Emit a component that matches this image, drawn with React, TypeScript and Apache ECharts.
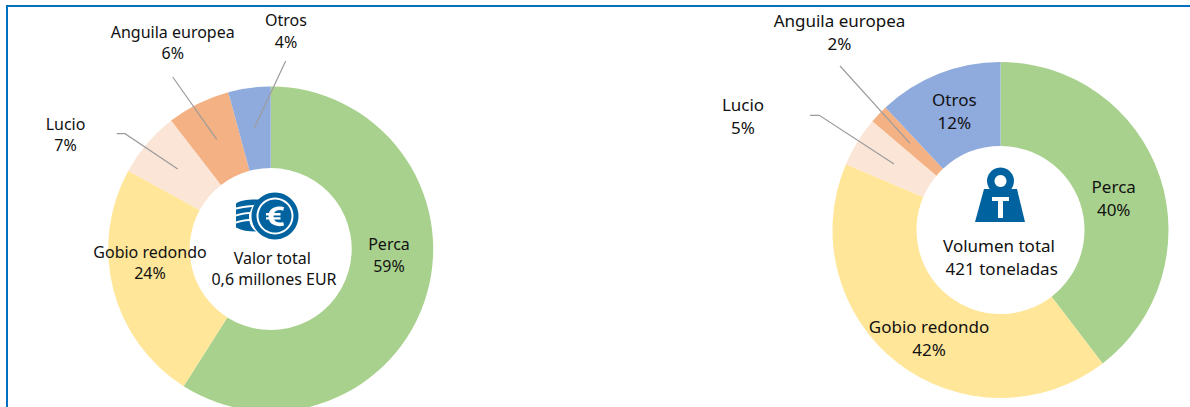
import React, { useEffect, useRef } from "react";
import * as echarts from "echarts";

const categories = ["Perca", "Gobio redondo", "Lucio", "Anguila europea", "Otros"];
const valueShares = [59, 24, 6.5, 6.3, 4.2];
const volumeShares = [39.6, 41.8, 4.8, 1.8, 12];
const centerValor = ["Valor total", "0,6 millones EUR"];
const centerVolumen = ["Volumen total", "421 toneladas"];
const sliceColors = ["#A9D18E", "#FFE699", "#FBE5D6", "#F4B183", "#8FAADC"];

const FONT = "'Noto Sans'";
const BLUE = "#00639F";
const LEFT_SIZE = 16;
const RIGHT_SIZE = 17;

type Place = { x: number; y: number; line?: number[][] };
const leftPlaces: Place[] = [
  { x: 389, y: 255 },
  { x: 150, y: 262.5 },
  { x: 65.5, y: 134.5, line: [[116.7, 133.7], [125, 133.7], [177.7, 169]] },
  { x: 172.7, y: 42.5, line: [[172.7, 77], [216.7, 139.3]] },
  { x: 286, y: 31, line: [[285.7, 61], [254.3, 127.7]] },
];
const rightPlaces: Place[] = [
  { x: 1113.7, y: 198.2 },
  { x: 929, y: 337.5 },
  { x: 743, y: 115.5, line: [[810, 115.3], [819.3, 115.3], [894, 164]] },
  { x: 839.5, y: 32.3, line: [[840, 66], [910, 143.3]] },
  { x: 954.3, y: 110.5 },
];

echarts.graphic.registerShape(
  "coinStack",
  echarts.graphic.extendPath(
    "M22 0 C11 0 4 1 0 4 L0 8 C6 6.5 12 5.5 18 5.5 L24 0 Z M0 10 L0 15 C5 13.5 9 12.5 14 12.5 L16 7.5 C10 8 5 8.8 0 10 Z M0 17 L0 22 C5 20.5 9 19.5 13 19.5 L13 14.5 C8 14.8 5 15.5 0 17 Z M0 24 L0 28 C6 31 12 32 20 32 C16 29 14 26 13.5 21.5 C8 21.8 5 22.5 0 24 Z",
    {}
  )
);
echarts.graphic.registerShape(
  "euroSign",
  echarts.graphic.extendPath(
    "M14 0 C8 0 4 3 3 8 L0 8 L0 11 L2.6 11 L2.6 13 L0 13 L0 16 L3 16 C4 21 8 24 14 24 C15.5 24 17 23.7 18 23.2 L17.2 18.8 C16.2 19.3 15 19.6 14 19.6 C11 19.6 9 18.2 8.2 16 L14.5 16 L14.5 13 L7.6 13 L7.6 11 L14.5 11 L14.5 8 L8.2 8 C9 5.8 11 4.4 14 4.4 C15 4.4 16.2 4.7 17.2 5.2 L18 0.8 C17 0.3 15.5 0 14 0 Z",
    {}
  )
);

function pieSeries(
  name: string,
  values: number[],
  center: number[],
  radius: number[],
  places: Place[],
  fontSize: number,
  lineHeight: number
) {
  return {
    type: "pie",
    name,
    center,
    radius,
    startAngle: 90,
    clockwise: true,
    silent: true,
    avoidLabelOverlap: false,
    labelLine: { show: false },
    data: categories.map((c, i) => ({
      name: c,
      value: values[i],
      itemStyle: { color: sliceColors[i] },
    })),
    label: {
      show: true,
      position: "outside",
      formatter: (p: any) => `${p.name}\n${Math.round(p.value)}%`,
      fontFamily: FONT,
      fontSize,
      lineHeight,
      color: "#111111",
      align: "center",
    },
    labelLayout: (p: any) => {
      const pl = places[p.dataIndex];
      return { x: pl.x, y: pl.y, align: "center", verticalAlign: "middle" };
    },
  };
}

function leaders(places: Place[]) {
  return places
    .filter((p) => p.line)
    .map((p) => ({
      type: "polyline",
      z: 30,
      shape: { points: p.line },
      style: { stroke: "#9C9C9C", lineWidth: 1.2, fill: "none" },
    }));
}

function txt(x: number, y: number, text: string, fontSize: number) {
  return {
    type: "text",
    x,
    y,
    z: 20,
    style: {
      text,
      fontFamily: FONT,
      fontSize,
      fill: "#111111",
      align: "center",
      verticalAlign: "middle",
    },
  };
}

export default function App() {
  const ref = useRef<HTMLDivElement>(null);
  useEffect(() => {
    document.body.style.margin = "0";
    const chart = echarts.init(ref.current!, undefined, { renderer: "svg" });
    chart.setOption({
      animation: false,
      backgroundColor: "#FFFFFF",
      series: [
        pieSeries("Valor", valueShares, [270.7, 249], [81, 162.5], leftPlaces, LEFT_SIZE, 21.5),
        pieSeries("Volumen", volumeShares, [1000.5, 230], [84, 168], rightPlaces, RIGHT_SIZE, 23),
      ],
      graphic: [
        { type: "rect", shape: { x: 6, y: 5, width: 1184, height: 2 }, style: { fill: "#0070C0" } },
        { type: "rect", shape: { x: 6, y: 5, width: 2, height: 402 }, style: { fill: "#0070C0" } },
        ...leaders(leftPlaces),
        ...leaders(rightPlaces),
        txt(272.3, 258, centerValor[0], LEFT_SIZE),
        txt(274, 279, centerValor[1], LEFT_SIZE),
        txt(999, 245.5, centerVolumen[0], RIGHT_SIZE),
        txt(1001.7, 268.5, centerVolumen[1], RIGHT_SIZE),
        { type: "coinStack", x: 236, y: 199.5, z: 20, style: { fill: BLUE } },
        { type: "circle", z: 21, shape: { cx: 275, cy: 216, r: 23.5 }, style: { fill: BLUE } },
        { type: "circle", z: 22, shape: { cx: 275, cy: 216, r: 18.5 }, style: { fill: "#FFFFFF" } },
        { type: "circle", z: 23, shape: { cx: 275, cy: 216, r: 16.5 }, style: { fill: BLUE } },
        { type: "euroSign", x: 266, y: 206.5, scaleX: 1, scaleY: 0.82, z: 24, style: { fill: "#FFFFFF" } },
        { type: "circle", z: 20, shape: { cx: 1000.5, cy: 181, r: 13.5 }, style: { fill: BLUE } },
        { type: "circle", z: 21, shape: { cx: 1000.5, cy: 181, r: 6 }, style: { fill: "#FFFFFF" } },
        {
          type: "polygon",
          z: 20,
          shape: { points: [[984, 189], [1017, 189], [1025, 222], [975, 222]] },
          style: { fill: BLUE },
        },
        { type: "rect", z: 21, shape: { x: 992, y: 197, width: 17, height: 4 }, style: { fill: "#FFFFFF" } },
        { type: "rect", z: 21, shape: { x: 998, y: 197, width: 5, height: 21 }, style: { fill: "#FFFFFF" } },
      ],
    });
    return () => chart.dispose();
  }, []);
  return <div ref={ref} style={{ width: 1190, height: 407, overflow: "hidden" }} />;
}
